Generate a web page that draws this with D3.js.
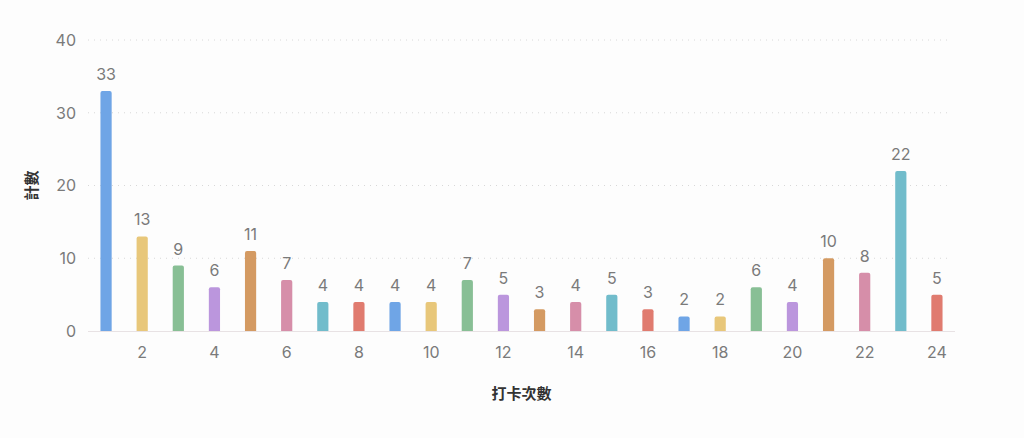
<!DOCTYPE html>
<html>
<head>
<meta charset="utf-8">
<script src="https://cdn.jsdelivr.net/npm/d3@7"></script>
<style>
  body { margin: 0; background: #fdfdfd; }
  svg { display: block; }
</style>
</head>
<body>
<div id="chart"></div>
<script>
// check-in count (1..24) and how many people hit it
const categories = d3.range(1, 25);
const counts = [33, 13, 9, 6, 11, 7, 4, 4, 4, 4, 7, 5, 3, 4, 5, 3, 2, 2, 6, 4, 10, 8, 22, 5];
const yTicks = [0, 10, 20, 30, 40];
const palette = ["#6fa5e6", "#e8c77a", "#88bf95", "#bb96dd", "#d49a62", "#d68ea9", "#71bccb", "#e07b6f"];

const width = 1024, height = 438;
const margin = {top: 40, right: 69, bottom: 107, left: 88};

const svg = d3.select("#chart").append("svg")
    .attr("width", width)
    .attr("height", height);

const x = d3.scaleBand()
    .domain(categories)
    .range([margin.left, width - margin.right])
    .paddingInner(0.69)
    .paddingOuter(0.345);

const y = d3.scaleLinear()
    .domain([0, 40])
    .range([height - margin.bottom, margin.top]);

const labelFont = "Inter, 'Liberation Sans', sans-serif";

// dotted grid lines
svg.append("g")
    .selectAll("line")
    .data(yTicks.filter(d => d > 0))
    .join("line")
    .attr("x1", margin.left)
    .attr("x2", width - margin.right - 3)
    .attr("y1", d => y(d))
    .attr("y2", d => y(d))
    .attr("stroke", "#d8d8d8")
    .attr("stroke-width", 1)
    .attr("stroke-dasharray", "1,5");

// y axis labels
svg.append("g")
    .selectAll("text")
    .data(yTicks)
    .join("text")
    .attr("x", 76)
    .attr("y", d => y(d))
    .attr("dy", "0.36em")
    .attr("text-anchor", "end")
    .attr("fill", "#7a7a7a")
    .style("font", `16px ${labelFont}`)
    .text(d => d);

// baseline
svg.append("line")
    .attr("x1", margin.left)
    .attr("x2", width - margin.right)
    .attr("y1", y(0) + 0.5)
    .attr("y2", y(0) + 0.5)
    .attr("stroke", "#e8e2e4")
    .attr("stroke-width", 1);

// bars with rounded tops
const r = 2;
svg.append("g")
    .selectAll("path")
    .data(counts)
    .join("path")
    .attr("fill", (d, i) => palette[i % palette.length])
    .attr("d", (d, i) => {
        const x0 = x(categories[i]), w = x.bandwidth();
        const y0 = y(d), y1 = y(0);
        return `M${x0},${y1}V${y0 + r}Q${x0},${y0} ${x0 + r},${y0}H${x0 + w - r}Q${x0 + w},${y0} ${x0 + w},${y0 + r}V${y1}Z`;
    });

// value labels
svg.append("g")
    .selectAll("text")
    .data(counts)
    .join("text")
    .attr("x", (d, i) => x(categories[i]) + x.bandwidth() / 2)
    .attr("y", d => y(d) - 11)
    .attr("text-anchor", "middle")
    .attr("fill", "#7a7a7a")
    .style("font", `16px ${labelFont}`)
    .text(d => d);

// x tick labels (every other category)
svg.append("g")
    .selectAll("text")
    .data(categories.filter(d => d % 2 === 0))
    .join("text")
    .attr("x", d => x(d) + x.bandwidth() / 2)
    .attr("y", y(0) + 27)
    .attr("text-anchor", "middle")
    .attr("fill", "#7a7a7a")
    .style("font", `16px ${labelFont}`)
    .text(d => d);

// axis titles
svg.append("text")
    .attr("x", (margin.left + width - margin.right) / 2)
    .attr("y", 399)
    .attr("text-anchor", "middle")
    .attr("fill", "#333")
    .style("font", "bold 15px 'Noto Sans CJK TC', sans-serif")
    .text("打卡次數");

svg.append("text")
    .attr("transform", `translate(37,${(margin.top + y(0)) / 2}) rotate(-90)`)
    .attr("text-anchor", "middle")
    .attr("fill", "#333")
    .style("font", "bold 15px 'Noto Sans CJK TC', sans-serif")
    .text("計數");
</script>
</body>
</html>
